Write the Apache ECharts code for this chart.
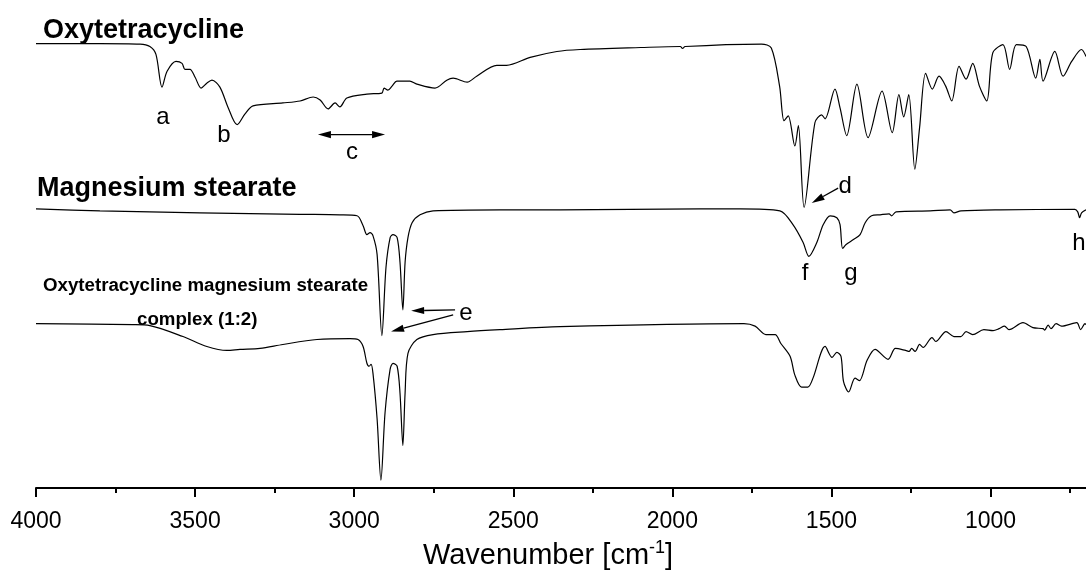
<!DOCTYPE html>
<html>
<head>
<meta charset="utf-8">
<script src="https://cdn.jsdelivr.net/npm/echarts@6/dist/echarts.min.js"></script>
<style>html,body{margin:0;padding:0;background:#fff}#c{width:1086px;height:575px}</style>
</head>
<body>
<div id="c"></div>
<script>
// Tick labels of the wavenumber axis (cm-1)
const majorTicks = [4000, 3500, 3000, 2500, 2000, 1500, 1000];
const minorTicks = [3750, 3250, 2750, 2250, 1750, 1250, 750];
const seriesNames = ['Oxytetracycline', 'Magnesium stearate', 'Oxytetracycline magnesium stearate', 'complex (1:2)'];
// [wavenumber cm-1, offset transmittance (arbitrary units)]
const oxytetracycline = [
[4000,449],[3900,449],[3799,449],[3673,448.5],[3642,446],[3623,438],[3604,405],[3588,421],[3560,431],[3541,429],[3532,423],[3516,423],[3500,415],[3481,404],[3463,409],[3447,412],[3422,405],[3397,385],[3368,367],[3343,378],[3318,386],[3224,389],[3170,391],[3129,395],[3107,392],[3082,383],[3060,389],[3045,385],[3023,394],[2960,398],[2913,399],[2906,404],[2894,402],[2881,406],[2866,411],[2825,411],[2803,408],[2746,404],[2709,412],[2689,414],[2645,410],[2615,416],[2552,427],[2521,427],[2447,435],[2363,441],[2290,443],[2100,445],[1975,446],[1968,444],[1960,446],[1720,448.5],[1689,444.5],[1663,406],[1649,371],[1636,376],[1615,345.5],[1604,366],[1586,283.5],[1552,369],[1531,377],[1520,373],[1489,403],[1473,384],[1452,356],[1420,408],[1385,354],[1341,401],[1309,359],[1288,397.5],[1273,375],[1257,397.5],[1238,322],[1223,364],[1204,419],[1183,403],[1162,416],[1141,406],[1122,391],[1099,426],[1077,413],[1056,429],[1035,406],[1012,391],[993,439.5],[961,448],[940,423],[919,448],[888,446],[858,414],[845,433],[835,411],[798,441],[772,416],[745,431],[714,443],[700,436]
];
const magnesiumStearate = [
[4000,282],[3799,280],[3485,278],[3170,276.5],[3045,276],[2991,275],[2972,265],[2960,256],[2950,258],[2941,255],[2928,236],[2913,154],[2900,223],[2887,253],[2878,256],[2865,253],[2856,228],[2847,180],[2840,228],[2831,253],[2818,268],[2793,276],[2752,280],[2542,281],[2353,281],[1913,282],[1787,282],[1662,280],[1621,266],[1589,248],[1571,234],[1546,248],[1526,266],[1504,275],[1483,273],[1473,266],[1465,242],[1454,246],[1431,251],[1410,256],[1394,268],[1374,275],[1347,276],[1319,277],[1311,275],[1297,279],[1190,280],[1127,281],[1115,278],[1093,280],[970,281],[735,281.5],[726,279],[720,273],[714,278],[700,281]
];
const complex12 = [
[4000,166],[3695,165],[3642,164],[3538,153],[3463,143],[3400,139],[3359,140],[3296,141],[3224,145],[3117,150],[3013,151],[2988,150],[2972,143],[2960,126],[2953,123],[2947,125],[2941,116],[2928,70],[2916,8],[2903,76],[2887,120],[2878,126],[2865,123],[2856,96],[2847,43],[2840,96],[2831,136],[2803,150],[2752,155],[2645,158],[2542,160],[2353,163],[1775,166],[1740,163.5],[1706,155],[1677,155],[1659,146],[1630,133],[1615,114],[1594,102],[1574,102],[1558,111],[1520,143],[1498,132],[1483,137],[1470,133],[1462,107.5],[1446,97],[1426,111],[1412,108.5],[1388,129],[1363,140],[1322,130],[1299,141],[1267,139],[1256,138],[1248,141],[1237,138],[1223,145],[1212,142],[1184,152],[1172,148],[1140,158],[1115,153],[1093,153],[1077,158],[1056,155],[1021,160],[992,159],[973,161],[956,163.5],[942,160],[898,167],[867,162],[835,161],[830,159.5],[819,164.5],[810,161],[794,166],[777,163.5],[729,167],[717,160],[703,166],[700,165]
];
// Peak letters
const peakLetters = ['a', 'b', 'c', 'd', 'e', 'f', 'g', 'h'];

const FF = '"Liberation Sans", Arial, Helvetica, sans-serif';
const chart = echarts.init(document.getElementById('c'), null, {renderer: 'canvas'});

const letterPos = {
  a: [3601, 374], b: [3409, 356], c: [3007, 339], d: [1457, 305],
  e: [2649, 176], f: [1583, 217], g: [1439, 217], h: [722, 247]
};
// annotation arrows in data coordinates
const arrowDefs = [
  {from: [3114, 357], to: [2903, 357], both: true},
  {from: [1479, 303], to: [1562, 288]},
  {from: [2683, 180], to: [2821, 179]},
  {from: [2689, 175], to: [2884, 158]}
];
const lineStyle = {color: '#000', width: 1.2};

const titleGraphics = [
  {type: 'text', left: 43, top: 17, style: {text: seriesNames[0], font: 'bold 27px ' + FF, fill: '#000'}},
  {type: 'text', left: 37, top: 175, style: {text: seriesNames[1], font: 'bold 27px ' + FF, fill: '#000'}},
  {type: 'text', left: 43, top: 276, style: {text: seriesNames[2], font: 'bold 18.7px ' + FF, fill: '#000'}},
  {type: 'text', left: 137, top: 310, style: {text: seriesNames[3], font: 'bold 18.7px ' + FF, fill: '#000'}}
];

const option = {
  animation: false,
  backgroundColor: '#fff',
  grid: {left: 36, right: 0, top: 0, bottom: 82, containLabel: false},
  xAxis: [{
    type: 'value', min: 700, max: 4000, inverse: true, position: 'bottom',
    axisLine: {show: true, onZero: false, lineStyle: {color: '#000', width: 2}},
    axisTick: {show: true, length: 9, lineStyle: {color: '#000', width: 2}, customValues: majorTicks},
    axisLabel: {show: true, customValues: majorTicks, formatter: v => String(v), fontSize: 23, color: '#000', margin: 22, fontFamily: FF},
    splitLine: {show: false},
    name: '{t|Wavenumber [cm}{s|-1}{t|]}',
    nameLocation: 'middle', nameGap: 51,
    nameTextStyle: {
      padding: [0, 26, 0, 0],
      rich: {
        t: {fontSize: 29, fontFamily: FF, color: '#000'},
        s: {fontSize: 18, fontFamily: FF, color: '#000', padding: [0, 0, 15, 0]}
      }
    }
  }, {
    type: 'value', min: 700, max: 4000, inverse: true, position: 'bottom',
    axisLine: {show: false},
    axisTick: {show: true, length: 5, lineStyle: {color: '#000', width: 2}, customValues: minorTicks},
    axisLabel: {show: false},
    splitLine: {show: false}
  }],
  yAxis: {type: 'value', min: 0, max: 493, show: false},
  graphic: titleGraphics,
  series: [{
    name: seriesNames[0], type: 'line', data: oxytetracycline, showSymbol: false, smooth: 0.3,
    lineStyle: lineStyle, silent: true,
    markPoint: {
      symbol: 'circle', symbolSize: 1, silent: true,
      itemStyle: {color: 'rgba(0,0,0,0)'},
      label: {show: true, position: 'inside', formatter: '{b}', fontSize: 24, color: '#000', fontFamily: FF},
      data: peakLetters.map(l => ({name: l, coord: letterPos[l]}))
    }
  }, {
    name: seriesNames[1], type: 'line', data: magnesiumStearate, showSymbol: false, smooth: 0.3,
    lineStyle: lineStyle, silent: true
  }, {
    name: 'complex', type: 'line', data: complex12, showSymbol: false, smooth: 0.3,
    lineStyle: lineStyle, silent: true
  }]
};
chart.setOption(option);

// arrows drawn from data coordinates converted by the chart's own scales
function head(tip, back, len, half) {
  const dx = tip[0] - back[0], dy = tip[1] - back[1];
  const d = Math.hypot(dx, dy) || 1;
  const ux = dx / d, uy = dy / d, nx = -uy, ny = ux;
  const bx = tip[0] - ux * len, by = tip[1] - uy * len;
  return {
    base: [bx, by],
    shape: {type: 'polygon', silent: true, shape: {points: [tip, [bx + nx * half, by + ny * half], [bx - nx * half, by - ny * half]]}, style: {fill: '#000'}}
  };
}
const arrowGraphics = [];
arrowDefs.forEach(a => {
  const p1 = chart.convertToPixel({gridIndex: 0}, a.from);
  const p2 = chart.convertToPixel({gridIndex: 0}, a.to);
  const h2 = head(p2, p1, 13, 3.6);
  let start = p1;
  if (a.both) {
    const h1 = head(p1, p2, 13, 3.6);
    start = h1.base;
    arrowGraphics.push(h1.shape);
  }
  arrowGraphics.push({type: 'line', silent: true, shape: {x1: start[0], y1: start[1], x2: h2.base[0], y2: h2.base[1]}, style: {stroke: '#000', lineWidth: 1.3}});
  arrowGraphics.push(h2.shape);
});
chart.setOption({graphic: titleGraphics.concat(arrowGraphics)});
</script>
</body>
</html>
